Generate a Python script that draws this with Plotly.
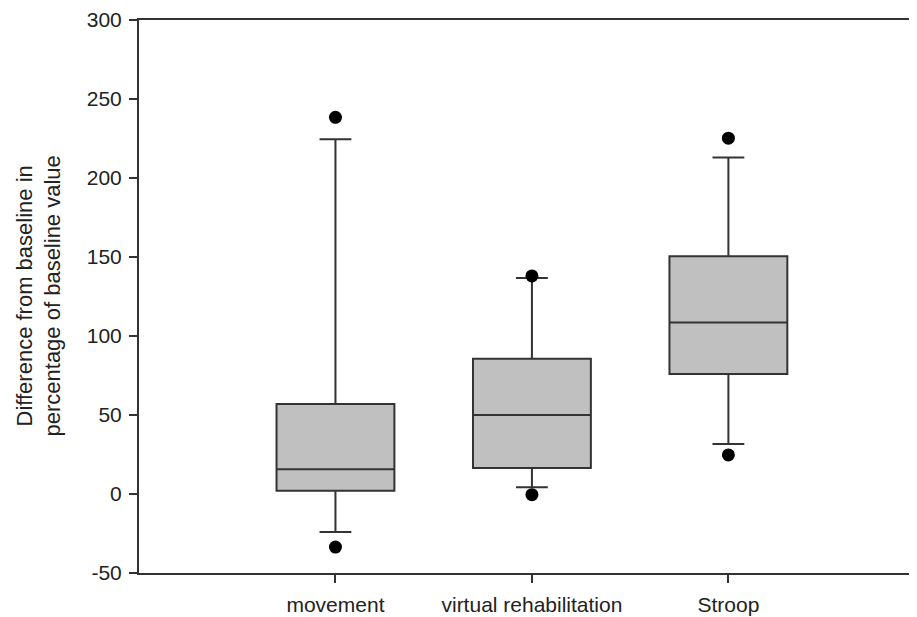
import plotly.graph_objects as go

categories = ["movement", "virtual rehabilitation", "Stroop"]
q1_vals = [2, 16.5, 76]
median_vals = [15.7, 50, 108.5]
q3_vals = [57, 85.6, 150.5]
lower_whisker = [-24, 4.2, 31.7]
upper_whisker = [224.5, 136.7, 213]
outliers_low = [-33.6, -0.4, 24.7]
outliers_high = [238.4, 138, 225.2]
y_ticks = [-50, 0, 50, 100, 150, 200, 250, 300]
y_tick_text = ["-50", "0", "50", "100", "150", "200", "250", "300"]
y_title = "Difference from baseline in<br>percentage of baseline value"

line_col = "#333333"
font_fam = "Liberation Sans, Arial, sans-serif"

# page body has an 8px margin, so the figure is shrunk by 8px on each side
W, H = 909, 609
L, R, T, B = 131, 0, 12, 44

fig = go.Figure()
for i, c in enumerate(categories):
    fig.add_trace(go.Box(
        x=[c], q1=[q1_vals[i]], median=[median_vals[i]], q3=[q3_vals[i]],
        lowerfence=[lower_whisker[i]], upperfence=[upper_whisker[i]],
        width=0.6, whiskerwidth=0.27,
        fillcolor="#c0c0c0", line=dict(color=line_col, width=2),
        boxpoints=False, showlegend=False, hoverinfo="skip",
    ))

ox, oy = [], []
for i, c in enumerate(categories):
    ox += [c, c]
    oy += [outliers_low[i], outliers_high[i]]
fig.add_trace(go.Scatter(x=ox, y=oy, mode="markers",
                         marker=dict(color="black", size=13),
                         showlegend=False, hoverinfo="skip"))

fig.update_layout(
    width=W, height=H,
    margin=dict(l=L, r=R, t=T, b=B),
    paper_bgcolor="white", plot_bgcolor="white",
    font=dict(family=font_fam, size=21, color="#222222"),
)
fig.update_xaxes(
    type="category", categoryorder="array", categoryarray=categories,
    range=[-1, 2.96], showgrid=False, zeroline=False, automargin=False,
    showline=True, linecolor=line_col, linewidth=2, mirror=True,
    ticks="outside", ticklen=8, tickwidth=1.5, tickcolor=line_col,
    tickfont=dict(size=21), ticklabelstandoff=4,
)
fig.update_yaxes(
    range=[-50, 300], tickvals=y_ticks, ticktext=y_tick_text,
    showgrid=False, zeroline=False, automargin=False,
    showline=True, linecolor=line_col, linewidth=2, mirror=False,
    ticks="outside", ticklen=8, tickwidth=1.5, tickcolor=line_col,
    tickfont=dict(size=21), ticklabelstandoff=3,
)
plot_w = W - L - R
fig.add_annotation(
    text=y_title, xref="paper", yref="paper",
    x=(30 - L) / plot_w, y=0.5, xanchor="center", yanchor="middle",
    textangle=-90, showarrow=False, font=dict(size=22, color="#222222"),
)
fig.write_html("out.html")
